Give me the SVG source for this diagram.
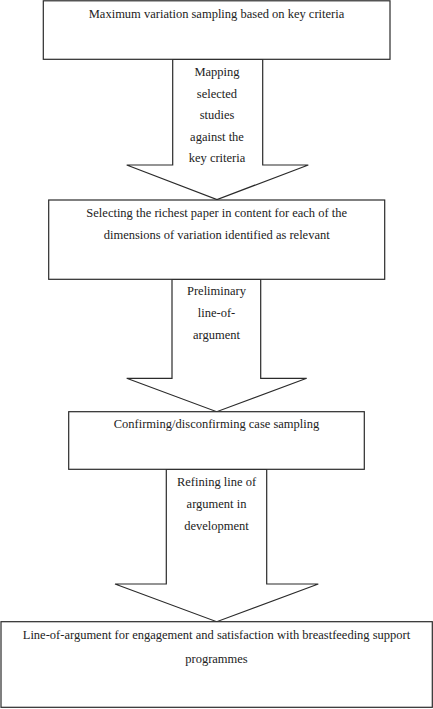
<svg xmlns="http://www.w3.org/2000/svg" width="433" height="709" viewBox="0 0 433 709">
<style>
.box{fill:#fff;stroke:#2b2b2b;stroke-width:1.2}
.arr{fill:#fff;stroke:#2b2b2b;stroke-width:1.2;stroke-linejoin:miter}
text{font-family:"Liberation Serif","Times New Roman",serif;font-size:12.5px;fill:#222;text-anchor:middle}
</style>
<rect width="433" height="709" fill="#fff"/>
<g id="connectors">
<polygon class="arr" points="172.7,59.3 262.7,59.3 262.7,165 308.3,165 217,199.5 126.7,165 172.7,165"/>
<text x="217" y="76">Mapping</text>
<text x="217" y="97.5">selected</text>
<text x="217" y="119">studies</text>
<text x="217" y="140.5">against the</text>
<text x="217" y="162">key criteria</text>
<polygon class="arr" points="172,279.3 260.7,279.3 260.7,378.3 306.7,378.3 216.7,411.7 126.7,378.3 172,378.3"/>
<text x="216.5" y="295">Preliminary</text>
<text x="216.5" y="317">line-of-</text>
<text x="216.5" y="339">argument</text>
<polygon class="arr" points="166.3,469.3 266.7,469.3 266.7,584 318.3,584 216.7,621.7 115,584 166.3,584"/>
<text x="216.5" y="486">Refining line of</text>
<text x="216.5" y="508">argument in</text>
<text x="216.5" y="530">development</text>
</g>
<g id="node1">
<rect class="box" x="43.3" y="0.8" width="346.7" height="58.5"/>
<text x="216.5" y="17.5">Maximum variation sampling based on key criteria</text>
</g>
<g id="node2">
<rect class="box" x="48.7" y="200" width="336" height="79.3"/>
<text x="216.7" y="216.7">Selecting the richest paper in content for each of the</text>
<text x="216.7" y="238.7">dimensions of variation identified as relevant</text>
</g>
<g id="node3">
<rect class="box" x="68.7" y="411.7" width="295.6" height="57.6"/>
<text x="216.5" y="428.3">Confirming/disconfirming case sampling</text>
</g>
<g id="node4">
<rect class="box" x="1" y="621.7" width="431.3" height="85.6"/>
<text x="216.5" y="639.3">Line-of-argument for engagement and satisfaction with breastfeeding support</text>
<text x="216.5" y="662.7">programmes</text>
</g>
</svg>
